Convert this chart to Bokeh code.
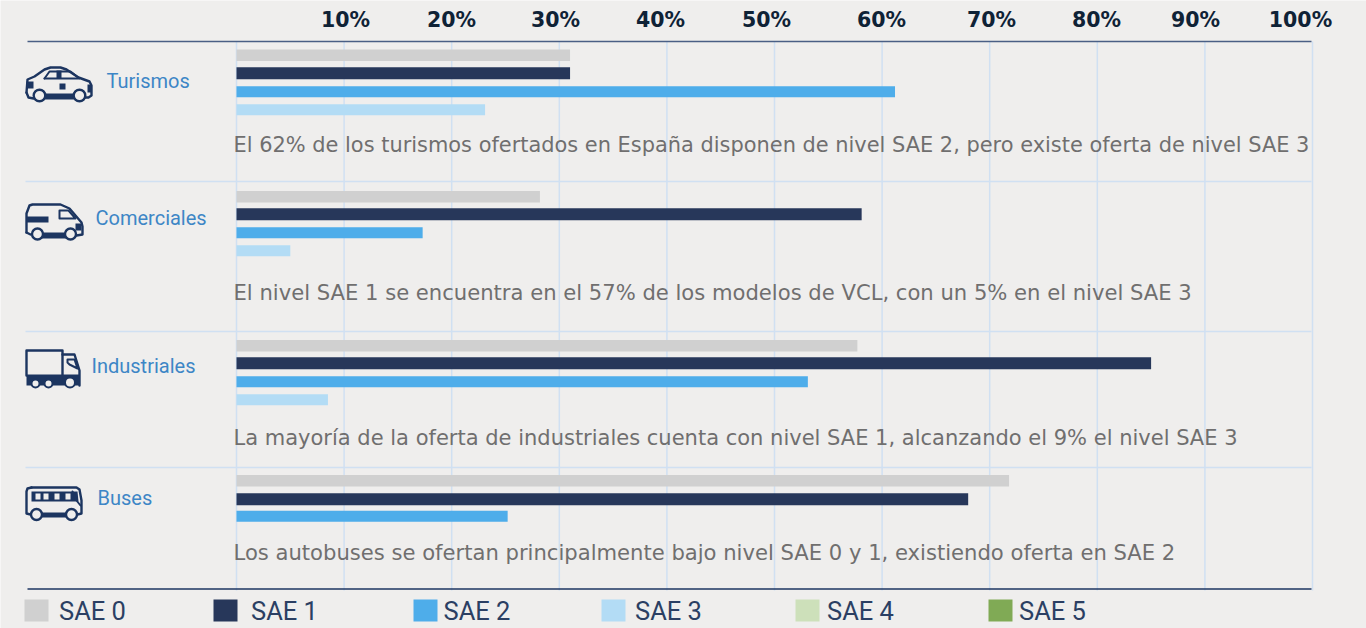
from bokeh.plotting import figure
from bokeh.models import Range1d, ColumnDataSource
from bokeh.core.properties import value
from bokeh.embed import file_html
from bokeh.resources import INLINE

# ---------- data ----------
vehicles = ["Turismos", "Comerciales", "Industriales", "Buses"]
sae0 = [31.0, 28.2, 57.7, 71.8]
sae1 = [31.0, 58.1, 85.0, 68.0]
sae2 = [61.2, 17.3, 53.1, 25.2]
sae3 = [23.1, 5.0, 8.5, 0]
tick_values = [0, 10, 20, 30, 40, 50, 60, 70, 80, 90, 100]
tick_labels = ["10%", "20%", "30%", "40%", "50%", "60%", "70%", "80%", "90%", "100%"]
legend_labels = ["SAE 0", "SAE 1", "SAE 2", "SAE 3", "SAE 4", "SAE 5"]
notes = [
    "El 62% de los turismos ofertados en España disponen de nivel SAE 2, pero existe oferta de nivel SAE 3",
    "El nivel SAE 1 se encuentra en el 57% de los modelos de VCL, con un 5% en el nivel SAE 3",
    "La mayoría de la oferta de industriales cuenta con nivel SAE 1, alcanzando el 9% el nivel SAE 3",
    "Los autobuses se ofertan principalmente bajo nivel SAE 0 y 1, existiendo oferta en SAE 2",
]

# ---------- styles / layout ----------
BG = "#efeeed"
ICON = "#1c3560"
COLORS = ["#d0d0d0", "#27375a", "#4eadea", "#b3dcf5", "#cde0ba", "#80aa55"]
GRID = "#d0e0f2"
PX = 10.76
X0 = 236
W, H = 1366, 628

p = figure(width=W, height=H, output_backend="svg", toolbar_location=None,
           x_range=Range1d(-X0 / PX, (W - X0) / PX),
           y_range=Range1d(H, 0), min_border=0,
           background_fill_color=BG, border_fill_color=BG, outline_line_color=None)
p.axis.visible = False
p.grid.visible = False
p.extra_x_ranges["px"] = Range1d(0, W)

# grid
p.segment(x0=tick_values, x1=tick_values, y0=[41] * 11, y1=[590] * 11, line_color=GRID, line_width=1.5)
for y in (181, 331, 467):
    p.line([25, 1311], [y, y], x_range_name="px", line_color=GRID, line_width=1.5)
p.line([27, 1311], [41, 41], x_range_name="px", line_color="#4a5f85", line_width=1.6)
p.line([27, 1311], [588.5, 588.5], x_range_name="px", line_color="#1d3461", line_width=1.4)

# bars
bar_y = [
    [54.7, 196.2, 345.2, 480.2],
    [72.7, 213.7, 362.7, 498.7],
    [91.2, 232.2, 381.2, 515.7],
    [109.2, 250.2, 399.2, None],
]
for vals, ys, col, hh in zip([sae0, sae1, sae2, sae3], bar_y, COLORS, [11.5, 12, 11, 11]):
    xs = [v for v, y in zip(vals, ys) if y is not None and v > 0]
    yy = [y for v, y in zip(vals, ys) if y is not None and v > 0]
    p.hbar(y=yy, left=0, right=xs, height=hh, fill_color=col, line_color=None)

# tick labels
tick_px = [345, 451, 555, 660, 766, 881, 991, 1096, 1195, 1300]
p.text(x=tick_px, y=[19] * 10, text=tick_labels, x_range_name="px", text_align="center",
       text_baseline="middle", text_font=value("DejaVu Sans"), text_font_style="bold",
       text_font_size="20.5px", text_color="#0f2236")

# notes
note_src = ColumnDataSource(dict(x=[233] * 4, y=[144.5, 291.5, 437.5, 551.5], text=notes,
                                 size=["20.92px", "21.12px", "21.0px", "21.12px"]))
p.text(x="x", y="y", text="text", text_font_size="size", source=note_src, x_range_name="px",
       text_baseline="middle", text_font=value("DejaVu Sans"), text_color="#706f6f")

# vehicle labels
p.text(x=[106, 95, 91, 97], y=[80.5, 217.5, 365.5, 497.5], text=vehicles, x_range_name="px",
       text_baseline="middle", text_font=value("Roboto"), text_font_size="20px", text_color="#3d86c6")

# legend
sw_x = [24, 213, 413, 601, 795, 988]
txt_x = [58.5, 250.5, 443, 634.5, 826.5, 1018.5]
p.quad(left=sw_x, right=[x + 24 for x in sw_x], top=[599] * 6, bottom=[621] * 6,
       x_range_name="px", fill_color=COLORS, line_color=None)
p.text(x=txt_x, y=[610] * 6, text=legend_labels, x_range_name="px", text_baseline="middle",
       text_font=value("Roboto"), text_font_size="25.5px", text_color="#2b3f63")


# ---------- icons ----------
def outline(xs, ys, w=2.4):
    p.line(xs, ys, x_range_name="px", line_color=ICON, line_width=w, line_join="round", line_cap="round")


def solid(xs, ys, col=ICON):
    p.patch(xs, ys, x_range_name="px", fill_color=col, line_color=None)


def wheel(cx, cy, r, w=2.4):
    p.scatter([cx], [cy], x_range_name="px", size=2 * r, fill_color=BG, line_color=ICON, line_width=w)


# car
outline([26, 27, 34, 44, 50, 60, 66, 78, 89, 91, 91, 88, 70], [92, 79, 76, 69, 67, 67, 69, 77, 81, 85, 95, 97, 97])
outline([26, 28, 33], [92, 97, 98])
outline([44, 49, 70, 79], [78, 71, 71, 78], 2)
outline([44, 78], [78, 78], 2)
solid([56, 61, 61, 56], [70, 70, 78, 78])
solid([59, 65, 65, 59], [83, 83, 89, 89])
solid([26, 33, 33, 26], [81, 81, 88, 88])
solid([87, 91, 91, 87], [84, 84, 92, 92])
solid([44, 74, 74, 44], [93, 93, 99, 99])
wheel(39, 95, 5.8)
wheel(79, 95, 5.8)

# van
outline([26, 26, 29, 32, 60, 69, 81, 82, 82, 76], [232, 213, 205, 204, 204, 208, 222, 226, 234, 235])
outline([26, 30], [232, 234])
outline([59, 59, 68, 75, 59], [218, 210, 210, 218, 218], 2)
solid([26, 48, 48, 26], [216, 216, 222, 222])
solid([75, 81, 81, 75], [223, 223, 230, 230])
solid([40, 66, 66, 40], [232, 232, 238, 238])
wheel(37, 233.5, 5.5)
wheel(70, 233.5, 5.5)

# truck
outline([26, 26, 62, 62], [375, 350, 350, 375])
outline([62, 74, 79, 79], [354, 354, 370, 385])
outline([67, 74, 77, 69, 67, 67], [359, 359, 368, 364, 362, 359], 2)
solid([26, 79, 79, 26], [374, 374, 385, 385])
wheel(35, 383, 4, 2)
wheel(48, 383, 4, 2)
wheel(69.5, 382, 5, 2)

# bus
outline([31, 76, 79, 81, 81, 77], [487, 487, 489, 500, 513, 514])
outline([31, 27, 26, 26, 30], [487, 488, 491, 513, 514])
solid([31, 77, 78, 31], [491, 491, 501, 501])
for x0 in (35, 43, 54, 65):
    solid([x0, x0 + 5, x0 + 5, x0], [493, 493, 499, 499], BG)
outline([72, 76, 80], [491, 500, 505], 2)
solid([41, 67, 67, 41], [512, 512, 517, 517])
wheel(36, 514, 5.5)
wheel(71, 514, 5.5)

open("out.html", "w").write(file_html(p, INLINE))
